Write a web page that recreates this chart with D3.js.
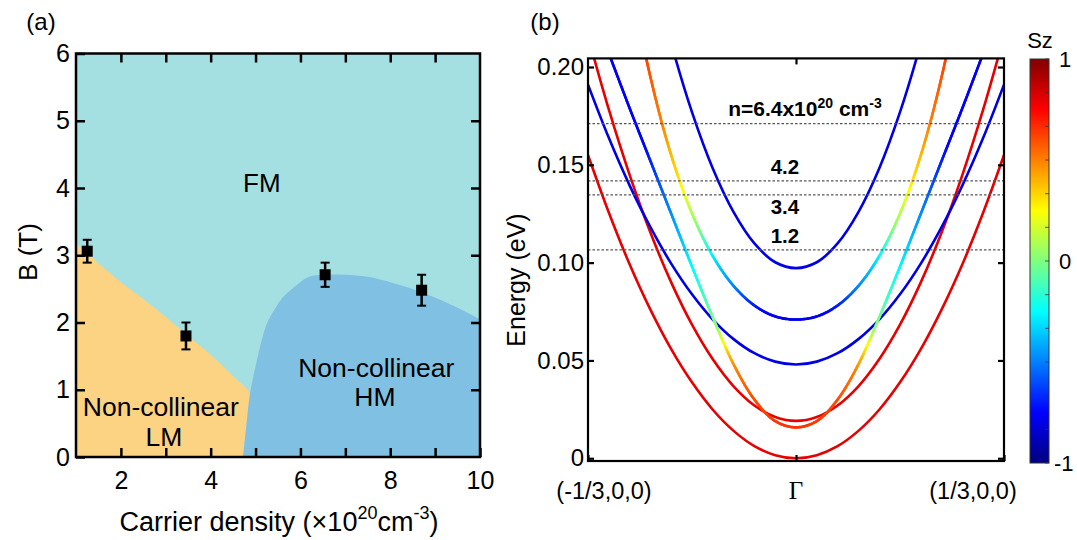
<!DOCTYPE html>
<html>
<head>
<meta charset="utf-8">
<script src="https://cdn.jsdelivr.net/npm/d3@7"></script>
<style>
body { margin: 0; background: #fff; }
text { font-family: "Liberation Sans", Arial, sans-serif; fill: #000; }
</style>
</head>
<body>
<div id="chart"></div>
<script>
// ---------- panel (a): phase diagram ----------
var pointX = [1.25, 3.45, 6.55, 8.7];
var pointB = [3.06, 1.80, 2.71, 2.48];
var pointErr = [0.17, 0.20, 0.18, 0.23];

// LM / FM boundary (then down to the bottom axis)
var lmX = [1.0, 1.5, 2.0, 2.5, 3.0, 3.5, 4.0, 4.5, 4.88, 4.8, 4.72];
var lmY = [3.18, 2.88, 2.6, 2.35, 2.08, 1.8, 1.52, 1.2, 0.93, 0.5, 0];
// HM boundary, from the bottom axis up and across to the right edge
var hmX = [4.72, 4.8, 4.87, 5.0, 5.12, 5.25, 5.43, 5.6, 5.81, 6.19, 6.5, 7.0, 7.5, 8.0, 8.5, 9.0, 9.5, 10];
var hmY = [0, 0.5, 0.92, 1.35, 1.69, 1.98, 2.2, 2.37, 2.5, 2.68, 2.71, 2.71, 2.68, 2.6, 2.5, 2.37, 2.22, 2.05];

var xTicksA = [2, 3, 4, 5, 6, 7, 8, 9, 10];
var yTicksA = [0, 1, 2, 3, 4, 5, 6];

// ---------- panel (b): band structure ----------
var kGrid = [-1, -0.9, -0.8, -0.7, -0.6, -0.5, -0.4, -0.3, -0.2, -0.1, 0,
             0.1, 0.2, 0.3, 0.4, 0.5, 0.6, 0.7, 0.8, 0.9, 1];
var bandA = [0.155, 0.1256, 0.0992, 0.0760, 0.0558, 0.0388, 0.0248, 0.0140, 0.0062, 0.0016, 0,
             0.0016, 0.0062, 0.0140, 0.0248, 0.0388, 0.0558, 0.0760, 0.0992, 0.1256, 0.155];
var bandB = [0.2157, 0.1783, 0.1449, 0.1154, 0.0899, 0.0683, 0.0506, 0.0368, 0.0270, 0.0211, 0.0191,
             0.0211, 0.0270, 0.0368, 0.0506, 0.0683, 0.0899, 0.1154, 0.1449, 0.1783, 0.2157];
var bandC = [0.235, 0.207, 0.179, 0.152, 0.125, 0.098, 0.072, 0.048, 0.030, 0.019, 0.0158,
             0.019, 0.030, 0.048, 0.072, 0.098, 0.125, 0.152, 0.179, 0.207, 0.235];
var bandD = [0.4007, 0.3149, 0.2473, 0.1949, 0.1549, 0.1251, 0.1033, 0.0881, 0.0781, 0.0725, 0.0709,
             0.0725, 0.0781, 0.0881, 0.1033, 0.1251, 0.1549, 0.1949, 0.2473, 0.3149, 0.4007];
var bandE = [0.191, 0.1638, 0.1395, 0.1181, 0.0995, 0.0838, 0.0709, 0.0609, 0.0537, 0.0494, 0.0479,
             0.0494, 0.0537, 0.0609, 0.0709, 0.0838, 0.0995, 0.1181, 0.1395, 0.1638, 0.191];
var bandF = [0.4166, 0.3559, 0.3015, 0.2536, 0.2121, 0.1769, 0.1481, 0.1258, 0.1098, 0.1002, 0.0972,
             0.1002, 0.1098, 0.1258, 0.1481, 0.1769, 0.2121, 0.2536, 0.3015, 0.3559, 0.4166];

// Sz along the mixed bands, read against energy
var szC_E = [0.0158, 0.03, 0.045, 0.052, 0.058, 0.066, 0.08, 0.103, 0.135, 0.16, 0.25];
var szC   = [0.65, 0.6, 0.5, 0.4, 0.25, 0.05, -0.1, -0.3, -0.55, -0.75, -0.8];
var szD_E = [0.0709, 0.078, 0.087, 0.103, 0.117, 0.135, 0.142, 0.1711, 0.2045, 0.45];
var szD   = [-0.8, -0.7, -0.5, -0.28, 0.0, 0.22, 0.3, 0.5, 0.62, 0.62];
var szRed = 0.8, szBlue = -0.8;

var fermiE = [0.1711, 0.1418, 0.1346, 0.1065];
var fermiLabelE = [0.1749, 0.1453, 0.1249, 0.1101];
var fermiLabelK = [0.043, -0.053, -0.053, -0.053];
var yTicksB = [0, 0.05, 0.10, 0.15, 0.20];
var yTickLabelsB = ["0", "0.05", "0.10", "0.15", "0.20"];
var kTicks = [-1, 0, 1];
var szTicks = [-1, 0, 1];

var W = 1077, H = 540;
var svg = d3.select("#chart").append("svg").attr("width", W).attr("height", H);

// ================= panel (a) =================
var xA = d3.scaleLinear().domain([1, 10]).range([76, 480]);
var yA = d3.scaleLinear().domain([0, 6]).range([457, 53.5]);

var ga = svg.append("g");
ga.append("rect").attr("x", xA(1)).attr("y", yA(6))
  .attr("width", xA(10) - xA(1)).attr("height", yA(0) - yA(6))
  .attr("fill", "#a4e0e2");

var smooth = d3.line().x(d => xA(d[0])).y(d => yA(d[1])).curve(d3.curveCatmullRom);

var lmPts = lmX.map((x, i) => [x, lmY[i]]);
ga.append("path")
  .attr("d", smooth(lmPts) + "L" + xA(1) + "," + yA(0) + "Z")
  .attr("fill", "#fcd382");

var hmPts = hmX.map((x, i) => [x, hmY[i]]);
ga.append("path")
  .attr("d", smooth(hmPts) + "L" + xA(10) + "," + yA(0) + "Z")
  .attr("fill", "#80c1e3");

// error bars + markers
pointX.forEach(function(x, i) {
  var cx = xA(x);
  ga.append("line").attr("x1", cx).attr("x2", cx)
    .attr("y1", yA(pointB[i] - pointErr[i])).attr("y2", yA(pointB[i] + pointErr[i]))
    .attr("stroke", "#000").attr("stroke-width", 2.5);
  [pointB[i] - pointErr[i], pointB[i] + pointErr[i]].forEach(function(v) {
    ga.append("line").attr("x1", cx - 4.5).attr("x2", cx + 4.5)
      .attr("y1", yA(v)).attr("y2", yA(v))
      .attr("stroke", "#000").attr("stroke-width", 2);
  });
  ga.append("rect").attr("x", cx - 5.5).attr("y", yA(pointB[i]) - 5.5)
    .attr("width", 11).attr("height", 11).attr("fill", "#000");
});

// axes (ticks inward on all sides)
var evenOnly = d => (d % 2 === 0 ? d : "");
ga.append("g").attr("transform", `translate(0,${yA(0)})`)
  .call(d3.axisBottom(xA).tickValues(xTicksA).tickSize(-9).tickSizeOuter(0).tickPadding(14).tickFormat(evenOnly));
ga.append("g").attr("transform", `translate(0,${yA(6)})`)
  .call(d3.axisTop(xA).tickValues(xTicksA.slice(0, -1)).tickSize(-9).tickSizeOuter(0).tickFormat(""));
ga.append("g").attr("transform", `translate(${xA(1)},0)`)
  .call(d3.axisLeft(yA).tickValues(yTicksA).tickSize(-9).tickSizeOuter(0).tickPadding(6).tickFormat(d3.format("d")));
ga.append("g").attr("transform", `translate(${xA(10)},0)`)
  .call(d3.axisRight(yA).tickValues(yTicksA.slice(1, -1)).tickSize(-9).tickSizeOuter(0).tickFormat(""));
ga.selectAll(".domain").remove();
ga.selectAll(".tick line").attr("stroke", "#000").attr("stroke-width", 2.5);
ga.selectAll(".tick text").attr("font-size", 25).attr("font-family", "Liberation Sans, Arial, sans-serif");
ga.append("rect").attr("x", xA(1)).attr("y", yA(6))
  .attr("width", xA(10) - xA(1)).attr("height", yA(0) - yA(6))
  .attr("fill", "none").attr("stroke", "#000").attr("stroke-width", 2.5);

// region labels
function label(g, x, y, txt, size, anchor) {
  return g.append("text").attr("x", x).attr("y", y).attr("font-size", size)
    .attr("text-anchor", anchor || "middle").text(txt);
}
label(ga, xA(5.14), yA(4.08) + 9, "FM", 26);
label(ga, xA(2.89), yA(0.74) + 9, "Non-collinear", 26.5);
label(ga, xA(2.96), yA(0.29) + 9, "LM", 26.5);
label(ga, xA(7.69), yA(1.32) + 9, "Non-collinear", 26.5);
label(ga, xA(7.66), yA(0.89) + 9, "HM", 26.5);
label(ga, 41, 30, "(a)", 24);

var xt = ga.append("text").attr("x", 279).attr("y", 531).attr("font-size", 27).attr("text-anchor", "middle");
xt.append("tspan").text("Carrier density (\u00d710");
xt.append("tspan").attr("dy", -12).attr("font-size", 18).text("20");
xt.append("tspan").attr("dy", 12).text("cm");
xt.append("tspan").attr("dy", -12).attr("font-size", 18).text("-3");
xt.append("tspan").attr("dy", 12).text(")");

ga.append("text").attr("transform", "translate(37,252) rotate(-90)")
  .attr("font-size", 26).attr("text-anchor", "middle").text("B (T)");

// ================= panel (b) =================
var xB = d3.scaleLinear().domain([-1, 1]).range([588, 1004]);
var yB = d3.scaleLinear().domain([-0.0014, 0.2044]).range([461, 58.4]);

var jet = d3.scaleLinear()
  .domain([-1, -0.75, -0.25, 0.25, 0.75, 1])
  .range(["#000080", "#0000ff", "#00ffff", "#ffff00", "#ff0000", "#800000"]);

var gb = svg.append("g");
gb.append("clipPath").attr("id", "clipB").append("rect")
  .attr("x", xB(-1)).attr("y", yB(0.2044))
  .attr("width", xB(1) - xB(-1)).attr("height", yB(-0.0014) - yB(0.2044));
var bands = gb.append("g").attr("clip-path", "url(#clipB)");

var lineB = d3.line().curve(d3.curveCatmullRom);

function drawBand(vals, sz, szE, szV) {
  var pts = kGrid.map((k, i) => [xB(k), yB(vals[i])]);
  var d = lineB(pts);
  if (!szE) {
    bands.append("path").attr("d", d).attr("fill", "none")
      .attr("stroke", jet(sz)).attr("stroke-width", 2.6);
    return;
  }
  var szOfE = d3.scaleLinear().domain(szE).range(szV).clamp(true);
  var tmp = bands.append("path").attr("d", d).attr("fill", "none").attr("stroke", "none");
  var node = tmp.node(), L = node.getTotalLength();
  var prev = node.getPointAtLength(0);
  for (var s = 1.5; s < L + 1.5; s += 1.5) {
    var p = node.getPointAtLength(Math.min(s, L));
    var e = yB.invert((p.y + prev.y) / 2);
    bands.append("line")
      .attr("x1", prev.x).attr("y1", prev.y).attr("x2", p.x).attr("y2", p.y)
      .attr("stroke", jet(szOfE(e))).attr("stroke-width", 2.6).attr("stroke-linecap", "round");
    prev = p;
  }
  tmp.remove();
}

drawBand(bandA, szRed);
drawBand(bandB, szRed);
drawBand(bandE, szBlue);
drawBand(bandF, szBlue);
drawBand(bandD, null, szD_E, szD);
drawBand(bandC, null, szC_E, szC);

// Fermi levels
fermiE.forEach(function(e) {
  gb.append("line").attr("x1", xB(-1)).attr("x2", xB(1))
    .attr("y1", yB(e)).attr("y2", yB(e))
    .attr("stroke", "#555").attr("stroke-width", 1.3).attr("stroke-dasharray", "2.5,2");
});
var nl = gb.append("text").attr("x", xB(fermiLabelK[0])).attr("y", yB(fermiLabelE[0]))
  .attr("font-size", 21).attr("font-weight", "bold").attr("text-anchor", "middle");
nl.append("tspan").text("n=6.4x10");
nl.append("tspan").attr("dy", -8).attr("font-size", 14).text("20");
nl.append("tspan").attr("dy", 8).text(" cm");
nl.append("tspan").attr("dy", -8).attr("font-size", 14).text("-3");
["4.2", "3.4", "1.2"].forEach(function(t, i) {
  gb.append("text").attr("x", xB(fermiLabelK[i + 1])).attr("y", yB(fermiLabelE[i + 1]))
    .attr("font-size", 20.5).attr("font-weight", "bold").attr("text-anchor", "middle").text(t);
});

// axes
gb.append("g").attr("transform", `translate(${xB(-1)},0)`)
  .call(d3.axisLeft(yB).tickValues(yTicksB).tickSize(-6).tickSizeOuter(0).tickPadding(4)
    .tickFormat((d, i) => yTickLabelsB[i]));
gb.append("g").attr("transform", `translate(${xB(1)},0)`)
  .call(d3.axisRight(yB).tickValues(yTicksB).tickSize(-6).tickSizeOuter(0).tickFormat(""));
gb.append("g").attr("transform", `translate(0,${yB(-0.0014)})`)
  .call(d3.axisBottom(xB).tickValues(kTicks).tickSize(-6).tickSizeOuter(0).tickFormat(""));
gb.append("g").attr("transform", `translate(0,${yB(0.2044)})`)
  .call(d3.axisTop(xB).tickValues([0]).tickSize(-6).tickSizeOuter(0).tickFormat(""));
gb.selectAll(".domain").remove();
gb.selectAll(".tick line").attr("stroke", "#000").attr("stroke-width", 2.2);
gb.selectAll(".tick text").attr("font-size", 24).attr("font-family", "Liberation Sans, Arial, sans-serif");
gb.append("rect").attr("x", xB(-1)).attr("y", yB(0.2044))
  .attr("width", xB(1) - xB(-1)).attr("height", yB(-0.0014) - yB(0.2044))
  .attr("fill", "none").attr("stroke", "#000").attr("stroke-width", 2.2);

// k-point labels
label(gb, xB(-1) + 16, 499, "(-1/3,0,0)", 23.5);
label(gb, xB(0), 499, "\u0393", 25).style("font-family", "Liberation Serif, serif");
label(gb, xB(1) - 31, 499, "(1/3,0,0)", 23.5);

gb.append("text").attr("transform", "translate(525,280) rotate(-90)")
  .attr("font-size", 25).attr("text-anchor", "middle").text("Energy (eV)");
label(gb, 545, 30, "(b)", 24);

// colour bar
var szScale = d3.scaleLinear().domain([-1, 1]).range([463, 59]);
var grad = svg.append("defs").append("linearGradient").attr("id", "jetGrad")
  .attr("x1", 0).attr("y1", 1).attr("x2", 0).attr("y2", 0);
jet.domain().forEach(function(v) {
  grad.append("stop").attr("offset", (v + 1) / 2).attr("stop-color", jet(v));
});
var cb = svg.append("g");
cb.append("rect").attr("x", 1030).attr("y", szScale(1))
  .attr("width", 19).attr("height", szScale(-1) - szScale(1))
  .attr("fill", "url(#jetGrad)").attr("stroke", "#333").attr("stroke-width", 1);
d3.range(-1, 1.0001, 1 / 6).forEach(function(v) {
  cb.append("line").attr("x1", 1045).attr("x2", 1049)
    .attr("y1", szScale(v)).attr("y2", szScale(v))
    .attr("stroke", "#333").attr("stroke-width", 0.8);
});
szTicks.forEach(function(v) {
  cb.append("text").attr("x", v < 0 ? 1054 : 1059).attr("y", szScale(v) + 8)
    .attr("font-size", 22).text(v);
});
label(cb, 1040, 48, "Sz", 22);
</script>
</body>
</html>
